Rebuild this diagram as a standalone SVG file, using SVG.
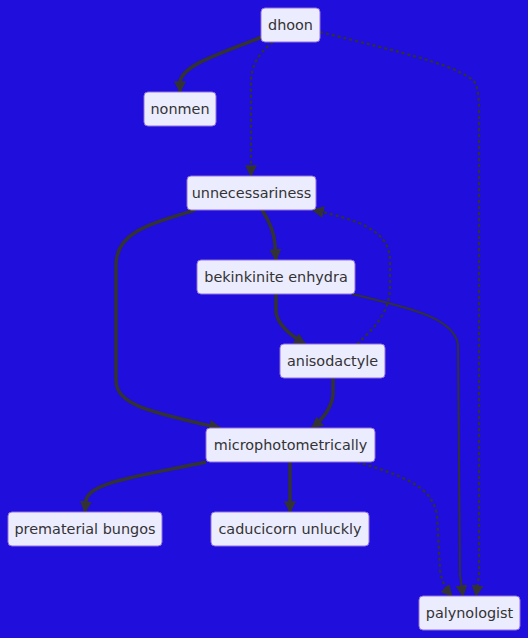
<svg xmlns="http://www.w3.org/2000/svg" width="528" height="638" viewBox="0 0 528 638">
<defs>
<style>
.node rect{fill:#ECECFF;stroke:#9370DB;stroke-width:1}
.node text{font-family:"DejaVu Sans",sans-serif;font-size:14.4px;fill:#333;text-anchor:middle}
.e{fill:none;stroke:#333;}
.thick{stroke-width:3.5}
.norm{stroke-width:2}
.dot{stroke-width:2.2;stroke-dasharray:3 3}
</style>
<marker id="ah" viewBox="0 0 10 10" refX="9" refY="5" markerUnits="userSpaceOnUse" markerWidth="12" markerHeight="12" orient="auto">
<path d="M0,0 L10,5 L0,10 z" fill="#333"/>
</marker>
</defs>
<rect width="528" height="638" fill="#1F0EDC"/>
<g id="edges">
<path class="e thick" d="M262,37 C215,55 182,66 180,82 L180,92" marker-end="url(#ah)"/>
<path class="e dot" d="M273,42 Q252,58 251,80 L251,176" marker-end="url(#ah)"/>
<path class="e dot" d="M320,32 C400,52 470,68 476,85 Q479,92 479,110 L479,575 L476,596" marker-end="url(#ah)"/>
<path class="e thick" d="M262,210 Q274,228 275,245 L276,260" marker-end="url(#ah)"/>
<path class="e thick" d="M195,210 C150,224 116,232 116,265 L116,380 C116,405 150,412 220,428" marker-end="url(#ah)"/>
<path class="e thick" d="M276,294 L276,312 Q278,328 305,344" marker-end="url(#ah)"/>
<path class="e norm" d="M352,294 C400,306 455,316 458,345 L460,575 L463,596" marker-end="url(#ah)"/>
<path class="e dot" d="M357,344 C378,325 390,310 390,285 L390,262 C390,235 370,222 313,210" marker-end="url(#ah)"/>
<path class="e thick" d="M333,378 L333,395 Q331,412 312,428" marker-end="url(#ah)"/>
<path class="e thick" d="M206,462 C140,476 90,482 86,500 L85,512" marker-end="url(#ah)"/>
<path class="e thick" d="M290,462 L290,512" marker-end="url(#ah)"/>
<path class="e dot" d="M357,462 C400,475 432,485 437,515 L440,570 Q442,585 452,596" marker-end="url(#ah)"/>
</g>
<g id="dhoon" class="node"><rect x="261" y="8" width="59" height="34" rx="4"/><text x="290.5" y="30">dhoon</text></g>
<g id="nonmen" class="node"><rect x="144" y="92" width="72" height="34" rx="4"/><text x="180" y="114">nonmen</text></g>
<g id="unnecessariness" class="node"><rect x="187" y="176" width="129" height="34" rx="4"/><text x="251.5" y="198">unnecessariness</text></g>
<g id="bekinkinite" class="node"><rect x="197" y="260" width="158" height="34" rx="4"/><text x="276" y="282">bekinkinite enhydra</text></g>
<g id="anisodactyle" class="node"><rect x="280" y="344" width="105" height="34" rx="4"/><text x="332.5" y="366">anisodactyle</text></g>
<g id="microphotometrically" class="node"><rect x="206" y="428" width="169" height="34" rx="4"/><text x="290.5" y="450">microphotometrically</text></g>
<g id="premateral" class="node"><rect x="8" y="512" width="154" height="34" rx="4"/><text x="85" y="534">prematerial bungos</text></g>
<g id="caducicorn" class="node"><rect x="211" y="512" width="158" height="34" rx="4"/><text x="290" y="534">caducicorn unluckly</text></g>
<g id="palynologist" class="node"><rect x="419" y="596" width="101" height="34" rx="4"/><text x="469.5" y="618">palynologist</text></g>
</svg>
